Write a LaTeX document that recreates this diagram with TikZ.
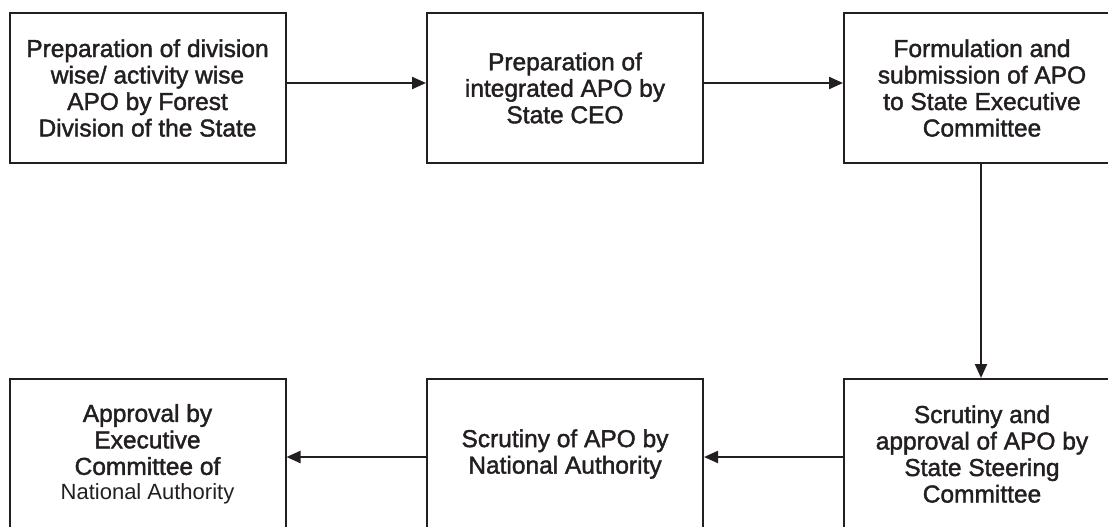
\documentclass[tikz,border=0pt]{standalone}
\usepackage{fontspec}
\setmainfont{Liberation Sans}
\newfontfamily\boxfont[FakeBold=1.6]{Liberation Sans}
\newfontfamily\thinfont{Liberation Sans}
\usetikzlibrary{arrows.meta}
\definecolor{ink}{HTML}{231F20}
\tikzset{
  stepbox/.style={draw=ink, line width=2pt, minimum width=276pt, minimum height=150pt,
    inner sep=0pt, align=center, text=ink,
    font=\boxfont\fontsize{24.5}{26.5}\selectfont},
  arr/.style={draw=ink, line width=2.2pt, -{Triangle[length=14pt,width=12pt]}}
}
\begin{document}
\begin{tikzpicture}[x=1pt,y=-1pt]
\useasboundingbox (0,0) rectangle (1108,527);
\clip (0,0) rectangle (1108,527);
\fill[white] (0,0) rectangle (1108,527);
\node[stepbox] (b1) at (147.5,88) {Preparation of division\\wise/ activity wise\\APO by Forest\\Division of the State};
\node[stepbox] (b2) at (565,88) {Preparation of\\integrated APO by\\State CEO};
\node[stepbox] (b3) at (982,88) {Formulation and\\submission of APO\\to State Executive\\Committee};
\node[stepbox] (b4) at (147.5,454) {Approval by\\Executive\\Committee of\\[-2pt]{\thinfont\fontsize{22}{24}\selectfont National Authority}};
\node[stepbox] (b5) at (565,454) {Scrutiny of APO by\\National Authority};
\node[stepbox] (b6) at (982,454) {Scrutiny and\\approval of APO by\\State Steering\\Committee};
\draw[arr] ([yshift=5pt]b1.east) -- ([yshift=5pt]b2.west);
\draw[arr] ([yshift=5pt]b2.east) -- ([yshift=5pt]b3.west);
\draw[arr] ([xshift=-1pt]b3.south) -- ([xshift=-1pt]b6.north);
\draw[arr] ([yshift=-3pt]b6.west) -- ([yshift=-3pt]b5.west -| b5.east);
\draw[arr] ([yshift=-3pt]b5.west) -- ([yshift=-3pt]b4.east);
\end{tikzpicture}
\end{document}
